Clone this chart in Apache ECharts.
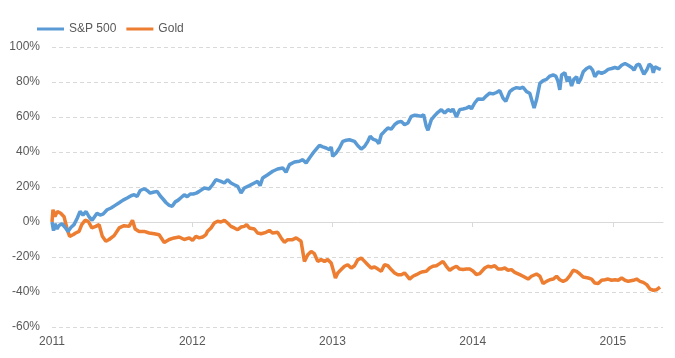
<!DOCTYPE html>
<html>
<head>
<meta charset="utf-8">
<script src="https://cdn.jsdelivr.net/npm/echarts@6/dist/echarts.min.js"></script>
<style>
html,body{margin:0;padding:0;background:#fff;}
#chart{width:675px;height:358px;}
</style>
</head>
<body>
<div id="chart"></div>
<script>
// Time positions are years elapsed since the start year
const startYear = 2011;
const yearTicks = [2011, 2012, 2013, 2014, 2015];
const axisEndYear = 2015.357;
const yTicks = { min: -60, max: 100, step: 20 };
const seriesNames = ['S&P 500', 'Gold'];

const spYears = [0,0.011,0.021,0.036,0.050,0.071,0.093,0.114,0.136,0.157,0.179,0.200,0.221,0.243,0.264,0.286,0.300,0.321,0.343,0.364,0.393,0.421,0.450,0.479,0.507,0.536,0.564,0.586,0.607,0.629,0.657,0.679,0.700,0.721,0.750,0.771,0.793,0.814,0.836,0.857,0.879,0.900,0.921,0.943,0.964,0.986,1.007,1.029,1.050,1.086,1.121,1.145,1.169,1.205,1.229,1.252,1.276,1.300,1.324,1.348,1.371,1.407,1.443,1.466,1.484,1.502,1.538,1.574,1.609,1.645,1.669,1.693,1.729,1.764,1.788,1.812,1.836,1.871,1.907,1.931,1.955,1.979,1.991,2.002,2.014,2.026,2.050,2.074,2.098,2.121,2.134,2.157,2.181,2.205,2.229,2.252,2.269,2.288,2.312,2.331,2.348,2.371,2.395,2.419,2.443,2.466,2.491,2.514,2.538,2.562,2.586,2.609,2.634,2.650,2.669,2.681,2.705,2.729,2.752,2.776,2.800,2.824,2.848,2.859,2.884,2.907,2.931,2.955,2.979,2.991,3.014,3.038,3.050,3.074,3.098,3.121,3.145,3.169,3.193,3.216,3.236,3.264,3.288,3.312,3.336,3.359,3.384,3.407,3.424,3.438,3.455,3.479,3.502,3.526,3.550,3.574,3.593,3.609,3.621,3.634,3.657,3.674,3.688,3.705,3.721,3.741,3.752,3.769,3.788,3.812,3.836,3.855,3.871,3.895,3.919,3.943,3.966,3.991,4.014,4.038,4.062,4.086,4.109,4.134,4.150,4.169,4.188,4.205,4.221,4.241,4.259,4.276,4.288,4.300,4.324,4.341];
const spValues = [0,-5,-1,-4,-2,-1,-3,-5.4,-3,-1.5,2,6,4,6,3,1,0,5,4,4.5,7,8,9.5,11,12.5,13.7,15,15.6,14.6,18,19,18,16.5,17,17.5,15,13,11,9.5,9,11.5,12.5,14,15.5,14.5,16,16,16.5,17.5,19.4,18.9,21.3,24.2,23.2,22.3,24.2,22.3,21.3,20.4,16.6,19.4,20.8,22.3,23.2,20.8,25.1,27,29,30.3,30.9,28.4,32.8,34.3,34.7,35.6,33.7,36.6,40.4,43.8,42.9,42.3,41.3,42.9,37.5,36.6,39.4,42.3,46.1,46.7,47,47.4,46.1,43.6,41.7,43.2,46.1,49,47.4,46.7,44.8,49.9,51.8,53.7,53.1,55.6,57,57.5,55.6,56.6,60.4,61,60.8,60.4,61.3,54.7,52.4,58.5,60.8,62.7,64.2,62.3,64.2,63.2,64.6,60,64.2,64.6,65.1,66.1,64.6,68,70.3,70.8,70.2,72.1,73.6,73.2,74,75.1,70.8,68.9,74.5,76,76.8,76.4,77,74.5,73.6,68.9,65.1,69.8,79.2,80.8,81.5,83.4,84,83.4,80.2,75.5,84,85.3,80.2,83,77.7,81.5,83,79.2,81.5,85.8,87.7,88.7,86.8,83,85.8,84.9,85.8,87.2,87.7,88.3,87.7,89.6,90.6,89.6,88.3,86.8,89.6,90.2,87.2,84.5,86.8,90.2,89.1,85.3,88.7,87.7,87.2];

const goldYears = [0,0.007,0.021,0.038,0.062,0.086,0.109,0.126,0.150,0.169,0.193,0.212,0.236,0.259,0.284,0.312,0.336,0.359,0.384,0.407,0.443,0.479,0.514,0.550,0.574,0.593,0.621,0.657,0.693,0.729,0.764,0.800,0.836,0.871,0.907,0.943,0.979,1.002,1.026,1.050,1.074,1.098,1.109,1.134,1.157,1.181,1.205,1.229,1.252,1.276,1.300,1.324,1.348,1.371,1.388,1.407,1.443,1.466,1.491,1.526,1.550,1.574,1.609,1.634,1.657,1.681,1.716,1.741,1.776,1.788,1.800,1.824,1.848,1.871,1.895,1.919,1.943,1.966,1.991,2.011,2.021,2.038,2.062,2.086,2.109,2.134,2.157,2.181,2.205,2.229,2.252,2.276,2.300,2.324,2.348,2.371,2.395,2.419,2.443,2.466,2.491,2.514,2.538,2.550,2.574,2.598,2.621,2.645,2.669,2.693,2.716,2.741,2.764,2.788,2.812,2.836,2.859,2.884,2.907,2.931,2.955,2.979,3.002,3.026,3.050,3.086,3.109,3.134,3.157,3.181,3.205,3.229,3.252,3.276,3.300,3.336,3.359,3.395,3.419,3.455,3.479,3.502,3.526,3.550,3.574,3.598,3.621,3.645,3.669,3.693,3.716,3.741,3.764,3.788,3.824,3.848,3.871,3.895,3.919,3.943,3.966,3.991,4.014,4.038,4.062,4.086,4.109,4.145,4.169,4.193,4.216,4.241,4.264,4.288,4.312,4.336];
const goldValues = [0,7,3.2,6,5,3,-4.4,-8.2,-7.3,-6.3,-5.4,-1.5,1,0.3,-3.4,-2.5,-1.5,-8.2,-11,-10,-7.8,-3.4,-2.1,-2.5,1,-4,-5.4,-5.4,-6.3,-6.7,-7.3,-11.7,-10,-9.1,-8.6,-10,-9.1,-10.5,-8.2,-9.1,-8.6,-7.2,-5.3,-3.4,-0.6,0.4,0,1,-0.6,-2.5,-3.4,-4.4,-2.9,-2.5,-1.5,-3.4,-4,-6.3,-6.7,-5.9,-4.8,-6.3,-5.9,-9.1,-11.6,-10.1,-10.1,-9.1,-11,-12,-22.5,-18.7,-16.8,-18.1,-22.5,-21.5,-22.5,-21.5,-23.4,-29,-32,-29.1,-27.2,-25.3,-24.4,-26.3,-25,-21.5,-20.6,-22.5,-24.4,-26.3,-25.7,-26.9,-28.2,-24.4,-25,-27.2,-29.1,-30.1,-30.1,-29.1,-31.4,-32.6,-31,-30.1,-29.1,-28.4,-28.2,-26.3,-25.3,-25,-23.8,-22.5,-25.3,-27.6,-26.3,-25.3,-26.9,-27.2,-26.9,-26.9,-28,-30,-29.5,-26.3,-25.3,-25.7,-25,-26.9,-26.9,-26.3,-27.6,-27.2,-28.8,-30.1,-31,-32.6,-31,-29.7,-31,-35.2,-33.9,-33,-32.6,-31,-33,-33.9,-33,-30.7,-27.6,-28.2,-29.7,-31.4,-32,-32.6,-34.9,-35.2,-33.3,-33,-32.6,-33.3,-33,-33.3,-32,-33.3,-33.9,-33.3,-32.6,-33.9,-34.5,-35.8,-38.3,-39,-38.7,-37.2];

function pairs(xs, ys) { return xs.map((d, i) => [startYear + d, ys[i]]); }

const chart = echarts.init(document.getElementById('chart'), null, { renderer: 'canvas' });
const font = 'Arial, "Liberation Sans", sans-serif';
chart.setOption({
  animation: false,
  backgroundColor: '#ffffff',
  textStyle: { fontFamily: font },
  color: ['#5B9BD5', '#ED7D31'],
  legend: {
    left: 32, top: 18,
    itemWidth: 27, itemHeight: 3, itemGap: 10,
    icon: 'rect',
    textStyle: { color: '#595959', fontSize: 12, fontFamily: font },
    data: seriesNames
  },
  grid: { left: 52, right: 12, top: 47, bottom: 31, containLabel: false },
  xAxis: [
    {
      type: 'value', min: startYear, max: axisEndYear, position: 'bottom',
      axisLine: { show: false, onZero: false },
      axisTick: { show: false },
      splitLine: { show: false },
      axisLabel: {
        customValues: yearTicks,
        formatter: v => String(Math.round(v)),
        color: '#595959', fontSize: 12, margin: 9, fontFamily: font
      }
    },
    {
      type: 'value', min: startYear, max: axisEndYear, position: 'bottom',
      axisLine: { show: true, onZero: true, lineStyle: { color: '#d9d9d9', width: 1 } },
      axisTick: { show: true, customValues: yearTicks, length: 5, lineStyle: { color: '#d9d9d9' } },
      axisLabel: { show: false },
      splitLine: { show: false }
    }
  ],
  yAxis: {
    type: 'value', min: yTicks.min, max: yTicks.max, interval: yTicks.step,
    axisLine: { show: false }, axisTick: { show: false },
    axisLabel: { formatter: '{value}%', color: '#595959', fontSize: 12, margin: 12, fontFamily: font },
    splitLine: { show: true, lineStyle: { color: '#d9d9d9', type: [4, 3], width: 1 } }
  },
  series: [
    {
      name: seriesNames[0], type: 'line', xAxisIndex: 0, showSymbol: false,
      lineStyle: { width: 3.5, color: '#5B9BD5' }, itemStyle: { color: '#5B9BD5' },
      data: pairs(spYears, spValues), z: 3
    },
    {
      name: seriesNames[1], type: 'line', xAxisIndex: 0, showSymbol: false,
      lineStyle: { width: 3.5, color: '#ED7D31' }, itemStyle: { color: '#ED7D31' },
      data: pairs(goldYears, goldValues), z: 2
    }
  ]
});
</script>
</body>
</html>
